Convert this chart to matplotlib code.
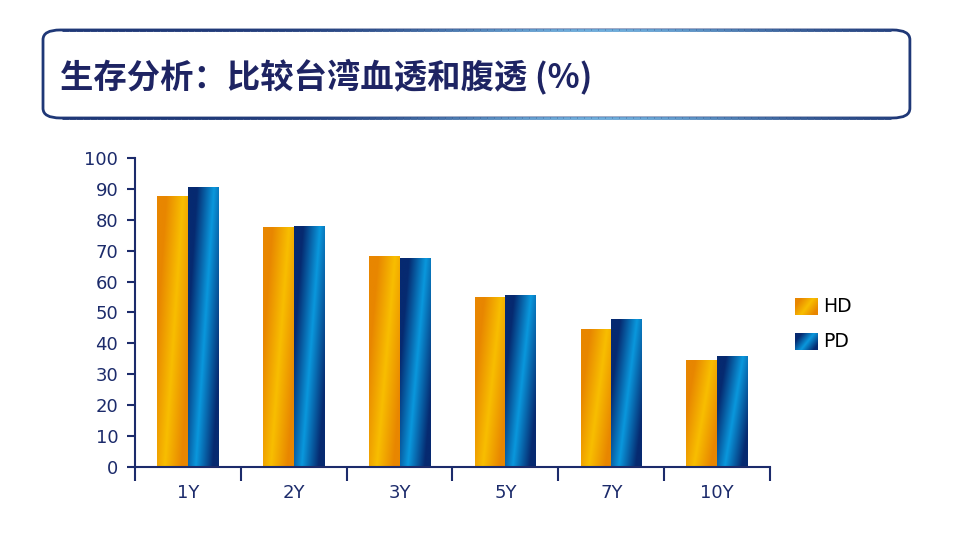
import numpy as np
import matplotlib
matplotlib.use("Agg")
import matplotlib.pyplot as plt
from matplotlib.patches import FancyBboxPatch
from matplotlib.collections import LineCollection
from matplotlib.colors import to_rgb

categories = ["1Y", "2Y", "3Y", "5Y", "7Y", "10Y"]
hd = [87.5, 77.5, 68.0, 54.8, 44.5, 34.5]
pd_vals = [90.5, 77.8, 67.5, 55.5, 47.8, 35.8]
series_names = ["HD", "PD"]
y_ticks = list(range(0, 101, 10))

navy = "#1C2B6B"
hd_dark, hd_bright = "#E88600", "#F8BE00"
pd_dark, pd_bright = "#062A70", "#0A98DD"


def gradient_img(dark, bright, nx=60, ny=200, spread=0.55):
    d = np.array(to_rgb(dark))
    b = np.array(to_rgb(bright))
    u = np.linspace(0, 1, nx)[None, :]
    v = np.linspace(1, 0, ny)[:, None]  # row 0 = top
    s = 0.25 + 0.6 * v
    t = np.clip(np.abs(u - s) / spread, 0, 1)
    return b + (d - b) * t[..., None]


plt.rcParams['font.family'] = ['DejaVu Sans']
fig = plt.figure(figsize=(9.6, 5.4), dpi=100)

# title box
bx0, by0, bw, bh = 0.0448, 0.7815, 0.903, 0.163
box = FancyBboxPatch((bx0, by0), bw, bh,
                     boxstyle="round,pad=0,rounding_size=0.018",
                     transform=fig.transFigure, facecolor="white",
                     edgecolor="#1F3877", linewidth=2)
fig.patches.append(box)
# lighter blue sheen on top and bottom edges
xs = np.linspace(bx0 + 0.02, bx0 + bw - 0.02, 120)
dark_edge = np.array(to_rgb("#1F3877"))
light_edge = np.array(to_rgb("#6FAEDC"))
k = np.exp(-((xs[:-1] - 0.62) / 0.2) ** 2)
cols = dark_edge + (light_edge - dark_edge) * k[:, None]
for yy in (by0, by0 + bh):
    segs = [[(xs[i], yy), (xs[i + 1], yy)] for i in range(len(xs) - 1)]
    fig.add_artist(LineCollection(segs, colors=cols, linewidths=2,
                                  transform=fig.transFigure))

fig.text(0.062, 0.859, "生存分析：比较台湾血透和腹透 (%)", fontsize=24,
         fontweight="heavy", color="#1E2463", va="center", ha="left",
         family=["Noto Sans CJK SC", "DejaVu Sans"])

ax = fig.add_axes([0.1406, 0.1352, 0.6615, 0.5722])
x = np.arange(len(categories))
w = 0.29
bars_hd = ax.bar(x - w / 2, hd, w, color="none", edgecolor="none")
bars_pd = ax.bar(x + w / 2, pd_vals, w, color="none", edgecolor="none")

img_hd = gradient_img(hd_dark, hd_bright)
img_pd = gradient_img(pd_dark, pd_bright)
for bars, img in [(bars_hd, img_hd), (bars_pd, img_pd)]:
    for b in bars:
        x0, h = b.get_x(), b.get_height()
        ax.imshow(img, extent=[x0, x0 + b.get_width(), 0, h],
                  aspect="auto", zorder=2, interpolation="bilinear")

ax.set_xlim(-0.5, len(categories) - 0.5)
ax.set_ylim(0, 100)
ax.set_yticks(y_ticks)
ax.set_xticks(x)
ax.set_xticklabels(categories)
ax.set_xticks(np.arange(-0.5, len(categories)), minor=True)
ax.tick_params(axis="x", which="major", length=0, pad=12, labelsize=13,
               labelcolor=navy)
ax.tick_params(axis="x", which="minor", length=10, width=1.5, color=navy,
               direction="out")
ax.tick_params(axis="y", length=6, width=1.5, color=navy, labelsize=13,
               labelcolor=navy, pad=6)
for side in ["top", "right"]:
    ax.spines[side].set_visible(False)
for side in ["left", "bottom"]:
    ax.spines[side].set_color(navy)
    ax.spines[side].set_linewidth(1.5)

# legend with gradient swatches
leg_imgs = [gradient_img(hd_dark, hd_bright), gradient_img(pd_dark, pd_bright)]
leg_y = [1 - 315 / 540, 1 - 350 / 540]
for name, img, ly in zip(series_names, leg_imgs, leg_y):
    lax = fig.add_axes([795 / 960, ly, 23 / 960, 17 / 540])
    lax.imshow(img, aspect="auto", extent=[0, 1, 0, 1])
    lax.axis("off")
    fig.text(823 / 960, ly + 8.5 / 540, name, fontsize=13.5, color="black",
             va="center", ha="left")

fig.savefig("out.png", dpi=100)
